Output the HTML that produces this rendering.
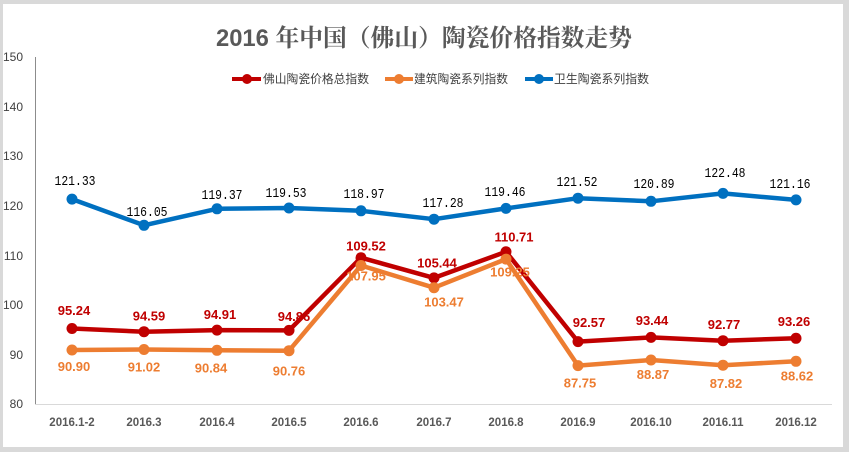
<!DOCTYPE html>
<html><head><meta charset="utf-8"><style>
html,body{margin:0;padding:0;background:#d9d9d9;}
svg{display:block;}
</style></head><body>
<svg width="849" height="452" viewBox="0 0 849 452" xmlns="http://www.w3.org/2000/svg">
<rect x="0" y="0" width="849" height="452" fill="#d9d9d9"/>
<rect x="3" y="4" width="840" height="443" fill="#ffffff"/>
<!-- title -->
<text x="424" y="46" text-anchor="middle" font-family="'Liberation Sans','Noto Serif CJK SC',serif" font-weight="bold" font-size="24" fill="#595959" textLength="416" lengthAdjust="spacingAndGlyphs">2016 年中国（佛山）陶瓷价格指数走势</text>
<!-- axes -->
<line x1="35.5" y1="57" x2="35.5" y2="404" stroke="#8c8c8c" stroke-width="1"/>
<line x1="35" y1="404.5" x2="832" y2="404.5" stroke="#d9d9d9" stroke-width="1"/>
<g font-family="'Liberation Sans',sans-serif" font-size="12" fill="#404040" text-anchor="end">
<text x="23" y="61">150</text>
<text x="23" y="111">140</text>
<text x="23" y="160">130</text>
<text x="23" y="210">120</text>
<text x="23" y="260">110</text>
<text x="23" y="309">100</text>
<text x="23" y="359">90</text>
<text x="23" y="408">80</text>
</g>
<g font-family="'Liberation Sans',sans-serif" font-size="11.5" font-weight="bold" fill="#595959" text-anchor="middle">
<text x="72" y="426">2016.1-2</text>
<text x="144" y="426">2016.3</text>
<text x="217" y="426">2016.4</text>
<text x="289" y="426">2016.5</text>
<text x="361" y="426">2016.6</text>
<text x="434" y="426">2016.7</text>
<text x="506" y="426">2016.8</text>
<text x="578" y="426">2016.9</text>
<text x="651" y="426">2016.10</text>
<text x="723" y="426">2016.11</text>
<text x="796" y="426">2016.12</text>
</g>
<!-- legend -->
<g font-family="'Liberation Sans','Noto Sans CJK SC',sans-serif" font-size="12" fill="#404040">
<line x1="232" y1="79" x2="261" y2="79" stroke="#c00000" stroke-width="4"/>
<circle cx="247" cy="79" r="5" fill="#c00000"/>
<text x="263" y="83" textLength="106" lengthAdjust="spacingAndGlyphs">佛山陶瓷价格总指数</text>
<line x1="385" y1="79" x2="413" y2="79" stroke="#ed7d31" stroke-width="4"/>
<circle cx="399" cy="79" r="5" fill="#ed7d31"/>
<text x="414" y="83" textLength="94" lengthAdjust="spacingAndGlyphs">建筑陶瓷系列指数</text>
<line x1="525" y1="79" x2="553" y2="79" stroke="#0070c0" stroke-width="4"/>
<circle cx="539" cy="79" r="5" fill="#0070c0"/>
<text x="554" y="83" textLength="95" lengthAdjust="spacingAndGlyphs">卫生陶瓷系列指数</text>
</g>
<!-- red series -->
<polyline fill="none" stroke="#c00000" stroke-width="4.5" stroke-linejoin="round" points="72,328.5 144,331.7 217,330.1 289,330.4 361,257.7 434,277.9 506,251.8 578,341.6 651,337.4 723,340.7 796,338.3"/>
<g fill="#c00000">
<circle cx="72" cy="328.5" r="5.5"/><circle cx="144" cy="331.7" r="5.5"/><circle cx="217" cy="330.1" r="5.5"/><circle cx="289" cy="330.4" r="5.5"/><circle cx="361" cy="257.7" r="5.5"/><circle cx="434" cy="277.9" r="5.5"/><circle cx="506" cy="251.8" r="5.5"/><circle cx="578" cy="341.6" r="5.5"/><circle cx="651" cy="337.4" r="5.5"/><circle cx="723" cy="340.7" r="5.5"/><circle cx="796" cy="338.3" r="5.5"/>
</g>
<!-- orange series -->
<polyline fill="none" stroke="#ed7d31" stroke-width="4.5" stroke-linejoin="round" points="72,350 144,349.5 217,350.3 289,350.7 361,265.5 434,287.7 506,259.1 578,365.6 651,360 723,365.2 796,361.3"/>
<g fill="#ed7d31">
<circle cx="72" cy="350" r="5.5"/><circle cx="144" cy="349.5" r="5.5"/><circle cx="217" cy="350.3" r="5.5"/><circle cx="289" cy="350.7" r="5.5"/><circle cx="361" cy="265.5" r="5.5"/><circle cx="434" cy="287.7" r="5.5"/><circle cx="506" cy="259.1" r="5.5"/><circle cx="578" cy="365.6" r="5.5"/><circle cx="651" cy="360" r="5.5"/><circle cx="723" cy="365.2" r="5.5"/><circle cx="796" cy="361.3" r="5.5"/>
</g>
<!-- blue series -->
<polyline fill="none" stroke="#0070c0" stroke-width="4.5" stroke-linejoin="round" points="72,199.1 144,225.3 217,208.8 289,208 361,210.8 434,219.2 506,208.4 578,198.2 651,201.3 723,193.4 796,199.9"/>
<g fill="#0070c0">
<circle cx="72" cy="199.1" r="5.5"/><circle cx="144" cy="225.3" r="5.5"/><circle cx="217" cy="208.8" r="5.5"/><circle cx="289" cy="208" r="5.5"/><circle cx="361" cy="210.8" r="5.5"/><circle cx="434" cy="219.2" r="5.5"/><circle cx="506" cy="208.4" r="5.5"/><circle cx="578" cy="198.2" r="5.5"/><circle cx="651" cy="201.3" r="5.5"/><circle cx="723" cy="193.4" r="5.5"/><circle cx="796" cy="199.9" r="5.5"/>
</g>
<!-- red labels -->
<g font-family="'Liberation Sans',sans-serif" font-size="13" font-weight="bold" fill="#c00000" text-anchor="middle">
<text x="74" y="315">95.24</text>
<text x="149" y="320.5">94.59</text>
<text x="220" y="319">94.91</text>
<text x="294" y="321">94.86</text>
<text x="366" y="250.5">109.52</text>
<text x="437" y="267.5">105.44</text>
<text x="514" y="241.5">110.71</text>
<text x="589" y="327">92.57</text>
<text x="652" y="325">93.44</text>
<text x="724" y="329">92.77</text>
<text x="794" y="326">93.26</text>
</g>
<!-- orange labels -->
<g font-family="'Liberation Sans',sans-serif" font-size="13" font-weight="bold" fill="#ed7d31" text-anchor="middle">
<text x="74" y="371">90.90</text>
<text x="144" y="371.5">91.02</text>
<text x="211" y="372.5">90.84</text>
<text x="289" y="375.5">90.76</text>
<text x="366" y="280.5">107.95</text>
<text x="444" y="306.5">103.47</text>
<text x="510" y="276.5">109.25</text>
<text x="580" y="387.5">87.75</text>
<text x="653" y="379">88.87</text>
<text x="726" y="388">87.82</text>
<text x="797" y="380.5">88.62</text>
</g>
<!-- blue labels -->
<g font-family="'Liberation Mono',monospace" font-size="14" fill="#000000" text-anchor="middle">
<text x="75" y="185" textLength="41" lengthAdjust="spacingAndGlyphs">121.33</text>
<text x="147" y="216" textLength="41" lengthAdjust="spacingAndGlyphs">116.05</text>
<text x="222" y="199" textLength="41" lengthAdjust="spacingAndGlyphs">119.37</text>
<text x="286" y="197" textLength="41" lengthAdjust="spacingAndGlyphs">119.53</text>
<text x="364" y="198" textLength="41" lengthAdjust="spacingAndGlyphs">118.97</text>
<text x="443" y="207" textLength="41" lengthAdjust="spacingAndGlyphs">117.28</text>
<text x="505" y="196" textLength="41" lengthAdjust="spacingAndGlyphs">119.46</text>
<text x="577" y="186" textLength="41" lengthAdjust="spacingAndGlyphs">121.52</text>
<text x="654" y="188" textLength="41" lengthAdjust="spacingAndGlyphs">120.89</text>
<text x="725" y="177" textLength="41" lengthAdjust="spacingAndGlyphs">122.48</text>
<text x="790" y="188" textLength="41" lengthAdjust="spacingAndGlyphs">121.16</text>
</g>
</svg>
</body></html>
